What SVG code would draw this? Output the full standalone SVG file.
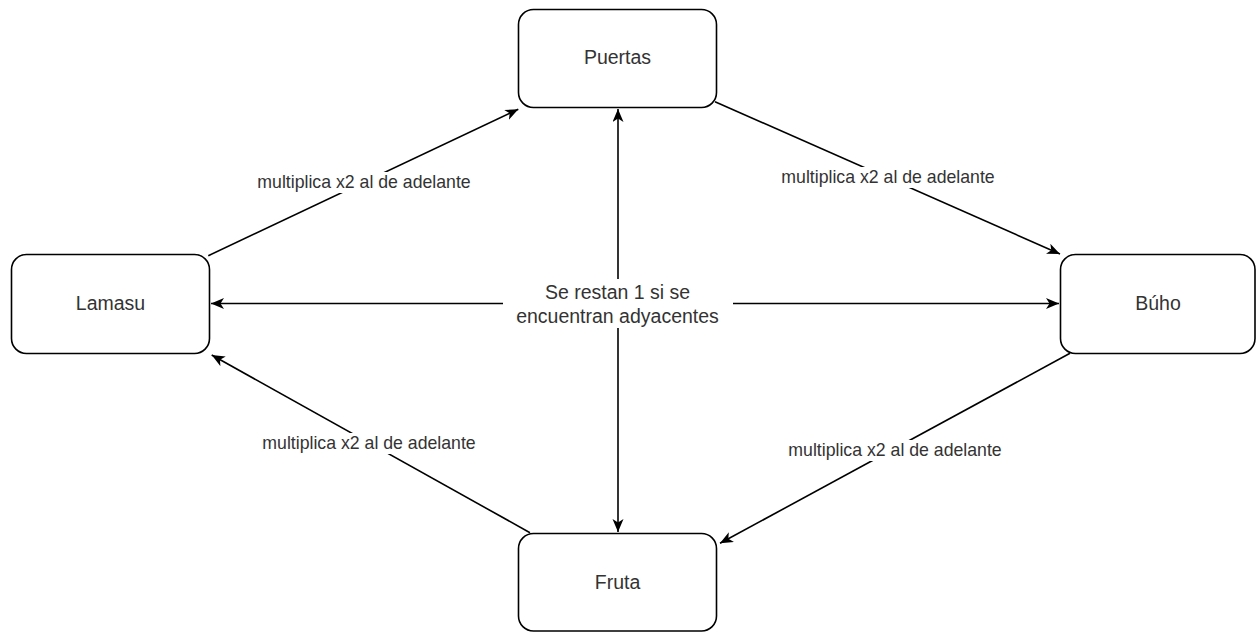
<svg xmlns="http://www.w3.org/2000/svg" width="1256" height="632" viewBox="0 0 1256 632">
  <style>
    .node rect { fill: #ffffff; stroke: #000000; stroke-width: 1.6; }
    .node text { font-family: "Liberation Sans", Arial, sans-serif; font-size: 19.5px; fill: #333333; text-anchor: middle; }
    .edge { fill: none; stroke: #000000; stroke-width: 1.6; }
    .lbl-bg { fill: #ffffff; }
    .lbl { font-family: "Liberation Sans", Arial, sans-serif; font-size: 17.7px; fill: #333333; text-anchor: middle; }
    .lbl-c { font-family: "Liberation Sans", Arial, sans-serif; font-size: 19.5px; fill: #333333; text-anchor: middle; }
  </style>
  <defs>
    <marker id="arrow" markerUnits="userSpaceOnUse" markerWidth="14" markerHeight="12" refX="13" refY="5.5" orient="auto-start-reverse">
      <path d="M0,0 L13,5.5 L0,11 L3.5,5.5 Z" fill="#000000"/>
    </marker>
  </defs>
  <rect width="1256" height="632" fill="#ffffff"/>

  <!-- connectors -->
  <g id="connectors">
    <line class="edge" x1="618" y1="109" x2="618" y2="532" marker-start="url(#arrow)" marker-end="url(#arrow)"/>
    <line class="edge" x1="211" y1="303.5" x2="1059" y2="303.5" marker-start="url(#arrow)" marker-end="url(#arrow)"/>
    <line class="edge" x1="208.3" y1="255.7" x2="518.3" y2="109.3" marker-end="url(#arrow)"/>
    <line class="edge" x1="715" y1="101.7" x2="1060" y2="254" marker-end="url(#arrow)"/>
    <line class="edge" x1="1070" y1="353.3" x2="720" y2="543.3" marker-end="url(#arrow)"/>
    <line class="edge" x1="530" y1="532.7" x2="211.7" y2="355" marker-end="url(#arrow)"/>

    <!-- labels -->
    <rect class="lbl-bg" x="503" y="279" width="230" height="49"/>
    <text class="lbl-c" x="617.5" y="299">Se restan 1 si se</text>
    <text class="lbl-c" x="617.5" y="322.5">encuentran adyacentes</text>

    <rect class="lbl-bg" x="255" y="172" width="218" height="21"/>
    <text class="lbl" x="364" y="188">multiplica x2 al de adelante</text>

    <rect class="lbl-bg" x="779" y="167" width="218" height="21"/>
    <text class="lbl" x="888" y="183">multiplica x2 al de adelante</text>

    <rect class="lbl-bg" x="786" y="440" width="218" height="21"/>
    <text class="lbl" x="895" y="455.5">multiplica x2 al de adelante</text>

    <rect class="lbl-bg" x="260" y="433" width="218" height="21"/>
    <text class="lbl" x="369" y="449">multiplica x2 al de adelante</text>
  </g>

  <!-- nodes -->
  <g id="puertas" class="node">
    <rect x="518.5" y="9.5" width="198" height="98" rx="15" ry="15"/>
    <text x="617.5" y="63.5">Puertas</text>
  </g>
  <g id="lamasu" class="node">
    <rect x="11.5" y="254.5" width="198" height="99" rx="15" ry="15"/>
    <text x="110.5" y="310">Lamasu</text>
  </g>
  <g id="buho" class="node">
    <rect x="1060.5" y="254.5" width="194.5" height="99" rx="15" ry="15"/>
    <text x="1158" y="310">Búho</text>
  </g>
  <g id="fruta" class="node">
    <rect x="518.5" y="533.5" width="198" height="97.5" rx="15" ry="15"/>
    <text x="617.5" y="588.5">Fruta</text>
  </g>
</svg>
